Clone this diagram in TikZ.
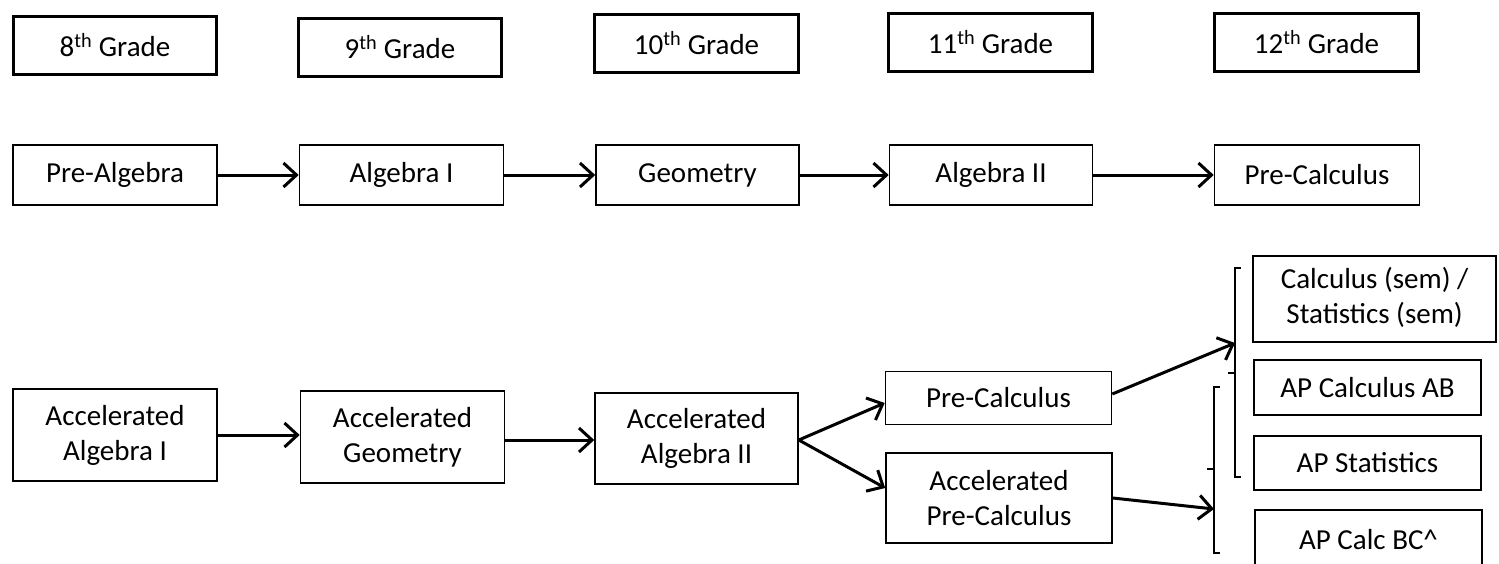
\documentclass[tikz,border=0pt]{standalone}
\usepackage{fontspec}
\setmainfont{Carlito}
\usetikzlibrary{arrows.meta}
\begin{document}
\begin{tikzpicture}[x=1pt,y=-1pt,
  txt/.style={font=\fontsize{29}{35}\selectfont},
  hdr/.style={draw, line width=3pt, minimum height=58pt, inner sep=0pt, txt},
  box/.style={draw, line width=1.6pt, inner sep=0pt, align=center, txt},
  arr/.style={line width=3pt, -{Straight Barb[length=13pt,width=24pt]}},
  brk/.style={line width=1.6pt}]
\useasboundingbox (0,0) rectangle (1499,563);
% headers
\node[hdr, minimum width=203pt] (h8)  at (115,45.5)   {8\textsuperscript{th} Grade};
\node[hdr, minimum width=203pt] (h9)  at (400,47.5)   {9\textsuperscript{th} Grade};
\node[hdr, minimum width=204pt] (h10) at (696.5,43.5) {10\textsuperscript{th} Grade};
\node[hdr, minimum width=204pt] (h11) at (990.5,42.5) {11\textsuperscript{th} Grade};
\node[hdr, minimum width=204pt] (h12) at (1316.5,42.5) {12\textsuperscript{th} Grade};
% row 2
\node[box, minimum width=204pt, minimum height=60pt] (pa)  at (115,175)   {Pre-Algebra};
\node[box, minimum width=204pt, minimum height=60pt] (al1) at (401.5,175) {Algebra I};
\node[box, minimum width=203pt, minimum height=60pt] (geo) at (697.5,175) {Geometry};
\node[box, minimum width=203pt, minimum height=60pt] (al2) at (991,175)   {Algebra II};
\node[box, minimum width=205pt, minimum height=60pt] (prc) at (1317,175)  {Pre-Calculus};
\draw[arr] (pa.east) -- (al1.west);
\draw[arr] (al1.east) -- (geo.west);
\draw[arr] (geo.east) -- (al2.west);
\draw[arr] (al2.east) -- (prc.west);
% row 3
\node[box, minimum width=204pt, minimum height=92pt] (aa1)  at (115,435)     {Accelerated\\Algebra I};
\node[box, minimum width=204pt, minimum height=92pt] (ageo) at (402.5,437)   {Accelerated\\Geometry};
\node[box, minimum width=203pt, minimum height=91pt] (aal2) at (696.5,438.5) {Accelerated\\Algebra II};
\node[box, minimum width=226pt, minimum height=53pt] (pc)   at (998.5,398)   {Pre-Calculus};
\node[box, minimum width=226pt, minimum height=90pt] (apc)  at (999,498)     {Accelerated\\Pre-Calculus};
\draw[arr] (aa1.east) -- (aa1.east -| ageo.west);
\draw[arr] ([yshift=-3pt]ageo.east) -- ([yshift=-3pt]ageo.east -| aal2.west);
\draw[arr] ([yshift=-1.5pt]aal2.east) -- ([yshift=-5pt]pc.west);
\draw[arr] ([yshift=-1.5pt]aal2.east) -- ([yshift=10pt]apc.west);
% right column
\node[box, minimum width=243pt, minimum height=86pt] (csem) at (1374.6,299)
  {\raisebox{6.5pt}{\begin{tabular}{@{}c@{}}Calculus (sem) /\\Statistics (sem)\end{tabular}}};
\node[box, minimum width=227pt, minimum height=55pt] (apab) at (1367.5,387.5) {AP Calculus AB};
\node[box, minimum width=227pt, minimum height=54pt] (apst) at (1367.5,463) {AP Statistics};
\node[box, minimum width=227pt, minimum height=60pt] (apbc) at (1368.5,540) {AP Calc BC\^{}};
% brackets
\coordinate (br1) at (1235,343);
\coordinate (br2) at (1214,509);
\draw[brk] (1241,268) -- (1235,268) -- (1235,477) -- (1241,477);
\draw[brk] (1235,373) -- (1228,373);
\draw[brk] (1220,387) -- (1214,387) -- (1214,553) -- (1220,553);
\draw[brk] (1214,469) -- (1207,469);
\draw[arr] ([yshift=4pt]pc.east) -- (br1);
\draw[arr] (apc.east) -- (br2);
\end{tikzpicture}
\end{document}
